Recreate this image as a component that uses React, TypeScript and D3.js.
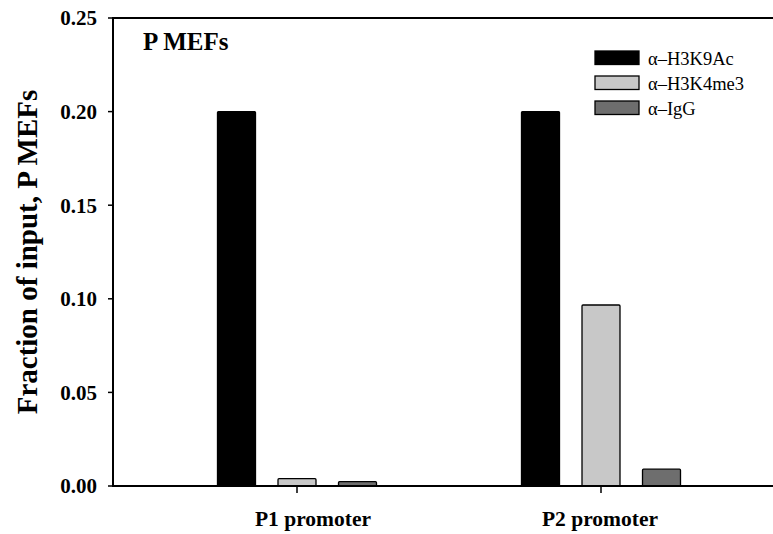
import React, { useEffect, useRef } from "react";
import * as d3 from "d3";

// Promoter regions on the x axis
const categories = ["P1 promoter", "P2 promoter"];
// Antibody series shown in the legend
const seriesNames = ["\u03b1\u2013H3K9Ac", "\u03b1\u2013H3K4me3", "\u03b1\u2013IgG"];
// Fraction of input for each series, per promoter
const h3k9acValues = [0.2, 0.2];
const h3k4me3Values = [0.0039, 0.0967];
const iggValues = [0.0023, 0.009];
// Y axis ticks
const yTicks = [0.0, 0.05, 0.1, 0.15, 0.2, 0.25];

const seriesValues = [h3k9acValues, h3k4me3Values, iggValues];
const seriesColors = ["#000000", "#c8c8c8", "#6e6e6e"];
const labelShift = [16, -1];

const W = 773;
const H = 534;
const left = 113;
const right = 785;
const top = 18;
const bottom = 486;
const serif = "'Liberation Serif', 'Times New Roman', serif";

export default function App() {
  const ref = useRef<SVGSVGElement | null>(null);

  useEffect(() => {
    const svg = d3.select(ref.current);
    svg.selectAll("*").remove();

    const y = d3.scaleLinear().domain([0, 0.25]).range([bottom, top]);
    const x = d3.scaleBand<string>().domain(categories).range([left, right]).padding(0.2105);
    const groupHalf = 79.5;
    const xs = d3
      .scaleBand<number>()
      .domain(seriesNames.map((_, i) => i))
      .range([-groupHalf, groupHalf])
      .paddingInner(0.372)
      .paddingOuter(0);

    const center = (c: string) => (x(c) as number) + x.bandwidth() / 2;

    // bars
    const g = svg.append("g");
    seriesValues.forEach((vals, si) => {
      g.selectAll(null)
        .data(categories)
        .enter()
        .append("rect")
        .attr("x", (c) => center(c) + (xs(si) as number))
        .attr("width", xs.bandwidth())
        .attr("y", (c, i) => y(vals[i]))
        .attr("height", (c, i) => bottom - y(vals[i]))
        .attr("fill", seriesColors[si])
        .attr("stroke", "#000")
        .attr("stroke-width", 1.3)
        .attr("rx", 1);
    });

    // frame lines: top and bottom run off the right edge
    svg.append("line").attr("x1", left).attr("x2", W + 20).attr("y1", top).attr("y2", top)
      .attr("stroke", "#000").attr("stroke-width", 2);
    svg.append("line").attr("x1", left).attr("x2", W + 20).attr("y1", bottom).attr("y2", bottom)
      .attr("stroke", "#000").attr("stroke-width", 2);
    svg.append("line").attr("x1", left).attr("x2", left).attr("y1", top - 1).attr("y2", bottom + 1)
      .attr("stroke", "#000").attr("stroke-width", 2);

    // y axis ticks and labels
    const yt = svg.append("g");
    yTicks.forEach((t) => {
      yt.append("line").attr("x1", left - 5).attr("x2", left).attr("y1", y(t)).attr("y2", y(t))
        .attr("stroke", "#000").attr("stroke-width", 1.5);
      yt.append("text")
        .attr("x", 97)
        .attr("y", y(t))
        .attr("dy", "0.35em")
        .attr("text-anchor", "end")
        .attr("font-family", serif)
        .attr("font-weight", "bold")
        .attr("font-size", 21)
        .text(d3.format(".2f")(t));
    });

    // x axis ticks and labels
    categories.forEach((c, i) => {
      svg.append("line").attr("x1", center(c)).attr("x2", center(c)).attr("y1", bottom).attr("y2", bottom + 7)
        .attr("stroke", "#000").attr("stroke-width", 1.5);
      svg.append("text")
        .attr("x", center(c) + labelShift[i])
        .attr("y", 526)
        .attr("text-anchor", "middle")
        .attr("font-family", serif)
        .attr("font-weight", "bold")
        .attr("font-size", 21.5)
        .text(c);
    });

    // y axis title
    svg.append("text")
      .attr("transform", "translate(37,252) rotate(-90)")
      .attr("text-anchor", "middle")
      .attr("font-family", serif)
      .attr("font-weight", "bold")
      .attr("font-size", 29)
      .text("Fraction of input, P MEFs");

    // panel title
    svg.append("text")
      .attr("x", 143)
      .attr("y", 50)
      .attr("font-family", serif)
      .attr("font-weight", "bold")
      .attr("font-size", 25)
      .text("P MEFs");

    // legend
    const lg = svg.append("g").attr("transform", "translate(595,51)");
    seriesNames.forEach((s, i) => {
      lg.append("rect")
        .attr("x", 0)
        .attr("y", i * 25)
        .attr("width", 44)
        .attr("height", 13.5)
        .attr("fill", seriesColors[i])
        .attr("stroke", "#000")
        .attr("stroke-width", 1.3);
      lg.append("text")
        .attr("x", 53)
        .attr("y", i * 25 + 13.5)
        .attr("font-family", serif)
        .attr("font-size", 18.5)
        .text(s);
    });
  }, []);

  return (
    <svg
      ref={ref}
      width={W}
      height={H}
      style={{ position: "absolute", left: 0, top: 0, display: "block", background: "#fff", overflow: "hidden" }}
    />
  );
}
